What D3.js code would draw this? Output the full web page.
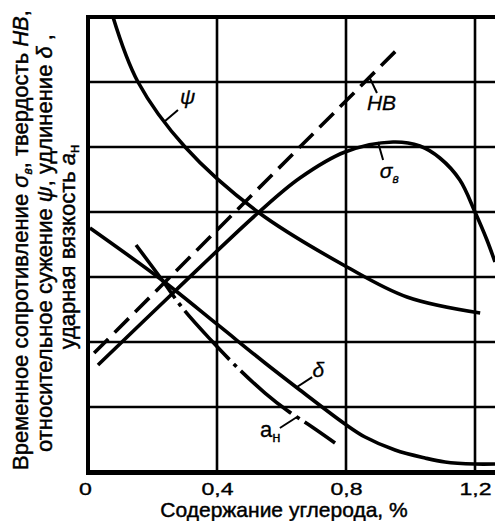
<!DOCTYPE html>
<html><head><meta charset="utf-8">
<script src="https://cdn.jsdelivr.net/npm/d3@7"></script>
<style>
html,body{margin:0;padding:0;background:#fff;}
svg{display:block;font-family:"Liberation Sans",Arial,sans-serif;}
</style></head>
<body><svg id="c" width="495" height="521"></svg>
<script>
// Carbon content, % (x) and property value in grid units (y, 0..7)
const xTicks = [0, 0.4, 0.8, 1.2];
const xTickLabels = ["0", "0,4", "0,8", "1,2"];
const yGridValues = [1, 2, 3, 4, 5, 6];

const psiX = [0.0775, 0.155, 0.301, 0.527, 0.803, 0.989, 1.216];
const psiY = [7.0, 6.0, 5.0, 4.0, 3.154, 2.692, 2.446];

const sigmaX = [0.031, 0.270, 0.527, 0.657, 0.797, 0.946, 1.029, 1.091, 1.153, 1.2, 1.237, 1.262];
const sigmaY = [1.646, 2.785, 3.985, 4.523, 4.923, 5.077, 5.015, 4.831, 4.492, 4.0, 3.569, 3.231];

const hbX = [0.019, 0.967];
const hbY = [1.83, 6.54];

const deltaX = [0.006, 0.229, 0.403, 0.549, 0.657, 0.797, 0.859, 0.952, 1.045, 1.107, 1.2, 1.262];
const deltaY = [3.754, 2.954, 2.262, 1.677, 1.262, 0.738, 0.538, 0.338, 0.215, 0.154, 0.123, 0.123];

const anX = [0.149, 0.223, 0.298, 0.384, 0.471, 0.549, 0.620, 0.695, 0.766];
const anY = [3.492, 3.0, 2.492, 2.015, 1.569, 1.215, 0.938, 0.692, 0.446];

// leader lines: [x1,y1,x2,y2] in data units
const leaders = [
  [0.239, 5.40, 0.279, 5.569],
  [0.874, 6.06, 0.896, 5.83],
  [0.899, 5.077, 0.915, 4.8],
  [0.648, 1.308, 0.695, 1.46],
  [0.595, 0.677, 0.648, 0.846]
];

const svg = d3.select("#c");
const W = 495;
const x = d3.scaleLinear().domain([0, 1.262]).range([88, 495]);
const y = d3.scaleLinear().domain([0, 7]).range([472, 17]);

// grid
svg.append("g").selectAll("line").data(yGridValues).join("line")
  .attr("x1", x(0)).attr("x2", W).attr("y1", d => y(d)).attr("y2", d => y(d))
  .attr("stroke", "#000").attr("stroke-width", 2.6);
svg.append("g").selectAll("line").data(xTicks.slice(1)).join("line")
  .attr("x1", d => x(d)).attr("x2", d => x(d)).attr("y1", y(0)).attr("y2", y(7))
  .attr("stroke", "#000").attr("stroke-width", 2.6);

// frame
svg.append("line").attr("x1", x(0)).attr("x2", W).attr("y1", y(7)).attr("y2", y(7))
  .attr("stroke", "#000").attr("stroke-width", 4);
svg.append("line").attr("x1", x(0)).attr("x2", x(0)).attr("y1", y(7) - 2).attr("y2", y(0) + 2.5)
  .attr("stroke", "#000").attr("stroke-width", 4);
svg.append("line").attr("x1", x(0) - 2).attr("x2", W).attr("y1", y(0) + 0.5).attr("y2", y(0) + 0.5)
  .attr("stroke", "#000").attr("stroke-width", 5);

const TS = 0.45; // text stroke to mimic heavier rendering

// x axis labels
const xAxis = d3.axisBottom(x).tickValues(xTicks).tickSize(0)
  .tickFormat((d, i) => xTickLabels[i]);
const gx = svg.append("g").attr("transform", `translate(0,${y(0)})`).call(xAxis);
gx.select(".domain").remove();
gx.selectAll("text").attr("font-size", 22).attr("font-family", null)
  .attr("fill", "#000").attr("stroke", "#000").attr("stroke-width", TS)
  .attr("y", 0).attr("dy", 0)
  .attr("transform", (d, i) => `translate(${i === 0 ? -3 : 0},23) scale(1.05,0.76)`);

svg.append("text").attr("x", 284).attr("y", 517).attr("text-anchor", "middle")
  .attr("stroke", "#000").attr("stroke-width", TS)
  .attr("font-size", 21).text("Содержание углерода, %");

// y axis title (3 rotated lines)
function yLine(cx, cy) {
  return svg.append("text").attr("transform", `translate(${cx},${cy}) rotate(-90)`)
    .attr("text-anchor", "middle").attr("font-size", 22)
    .attr("stroke", "#000").attr("stroke-width", TS);
}
let t1 = yLine(28, 240);
t1.append("tspan").text("Временное сопротивление ");
t1.append("tspan").attr("font-style", "italic").text("σ");
t1.append("tspan").attr("font-style", "italic").attr("font-size", 12).attr("dy", 4).text("в");
t1.append("tspan").attr("dy", -4).text(", твердость ");
t1.append("tspan").attr("font-style", "italic").text("HB");
t1.append("tspan").text(",");
let t2 = yLine(52, 243);
t2.append("tspan").text("относительное сужение ");
t2.append("tspan").attr("font-style", "italic").text("ψ");
t2.append("tspan").text(", удлинение ");
t2.append("tspan").attr("font-style", "italic").text("δ");
t2.append("tspan").text(" ,");
let t3 = yLine(75, 247);
t3.append("tspan").text("ударная вязкость ");
t3.append("tspan").attr("font-style", "italic").text("a");
t3.append("tspan").attr("font-size", 15).attr("dy", 4).text("н");

// curves
const line = d3.line().x(d => x(d[0])).y(d => y(d[1])).curve(d3.curveCatmullRom.alpha(0.5));
function draw(xs, ys, dash) {
  const p = svg.append("path").datum(xs.map((v, i) => [v, ys[i]])).attr("d", line)
    .attr("fill", "none").attr("stroke", "#000").attr("stroke-width", 3.6);
  if (dash) p.attr("stroke-dasharray", dash);
  return p;
}
draw(psiX, psiY);
draw(sigmaX, sigmaY);
draw(hbX, hbY, "20,9");
draw(deltaX, deltaY);
draw(anX, anY, "66,6,4,6");

// leaders
svg.append("g").selectAll("line").data(leaders).join("line")
  .attr("x1", d => x(d[0])).attr("y1", d => y(d[1]))
  .attr("x2", d => x(d[2])).attr("y2", d => y(d[3]))
  .attr("stroke", "#000").attr("stroke-width", 2);

// curve labels
const lab = svg.append("g").attr("font-size", 21).attr("stroke", "#000").attr("stroke-width", 0.3);
lab.append("text").attr("x", x(0.285)).attr("y", y(5.66)).attr("font-style", "italic").text("ψ");
lab.append("text").attr("x", x(0.865)).attr("y", y(5.57)).attr("font-style", "italic").text("HB");
let s = lab.append("text").attr("x", x(0.905)).attr("y", y(4.52)).attr("font-style", "italic");
s.append("tspan").text("σ");
s.append("tspan").attr("font-size", 12).attr("dy", 5).text("в");
lab.append("text").attr("x", x(0.696)).attr("y", y(1.46)).attr("font-style", "italic").text("δ");
let a = lab.append("text").attr("x", x(0.533)).attr("y", y(0.538)).attr("font-size", 22);
a.append("tspan").text("a");
a.append("tspan").attr("font-size", 15).attr("dy", 5).text("н");
</script></body></html>
